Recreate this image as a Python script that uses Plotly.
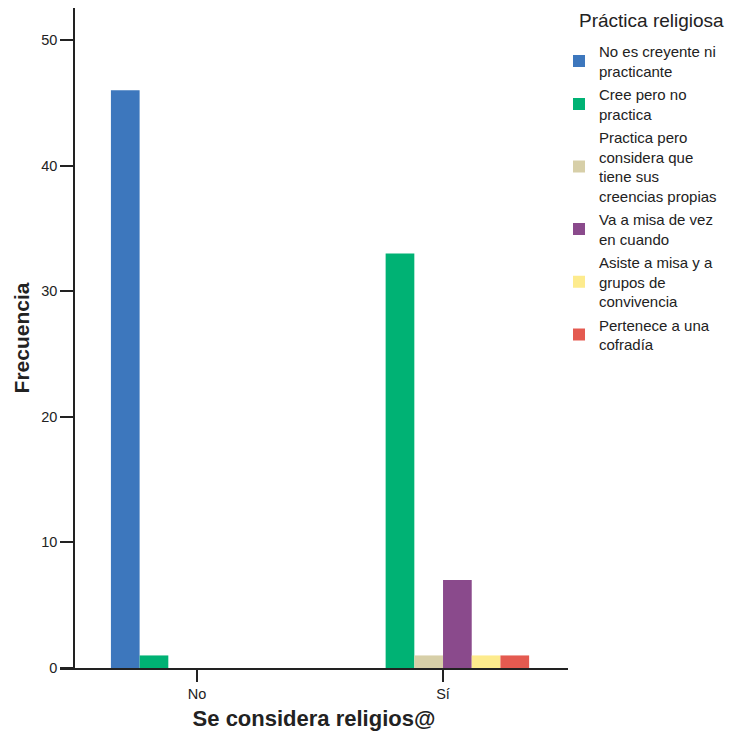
import plotly.graph_objects as go

categories = ["No", "Sí"]
series_names = [
    "No es creyente ni<br>practicante",
    "Cree pero no<br>practica",
    "Practica pero<br>considera que<br>tiene sus<br>creencias propias",
    "Va a misa de vez<br>en cuando",
    "Asiste a misa y a<br>grupos de<br>convivencia",
    "Pertenece a una<br>cofradía",
]
values_no = [46, 1, 0, 0, 0, 0]
values_si = [0, 33, 1, 7, 1, 1]
colors = ["#3D77BD", "#00B274", "#D7CFA8", "#8A4A8C", "#FDEB8D", "#E45A50"]
y_ticks = [0, 10, 20, 30, 40, 50]

FONT = "Liberation Sans, Arial, sans-serif"

# page body has an 8px margin; work in viewport pixels and convert
OFF = 8
W, H = 736, 733
PL, PR, PT, PB = 60, 568, 8, 668  # plot area in viewport pixels
L, T = PL - OFF, PT - OFF
R, B = W - (PR - OFF), H - (PB - OFF)
PW, PH = PR - PL, PB - PT


def px(xv):
    return (xv - PL) / PW


def py(yv):
    return 1.0 - (yv - PT) / PH


fig = go.Figure()
for i, name in enumerate(series_names):
    fig.add_trace(go.Bar(
        x=categories,
        y=[values_no[i], values_si[i]],
        name=name,
        legendgroup="g%d" % i,
        marker=dict(color=colors[i], line=dict(width=0)),
    ))

fig.update_layout(
    width=W, height=H,
    margin=dict(l=L, r=R, t=T, b=B, autoexpand=False),
    paper_bgcolor="white", plot_bgcolor="white",
    barmode="group", bargap=0.3, bargroupgap=0,
    font=dict(family=FONT, color="#222222", size=14),
    showlegend=True,
    legend=dict(
        x=px(559), y=py(35), xanchor="left", yanchor="top",
        xref="paper", yref="paper",
        font=dict(size=15, color="#222222"),
        itemwidth=30, tracegroupgap=1,
        bgcolor="rgba(0,0,0,0)",
    ),
    xaxis=dict(
        range=[-0.557, 1.508],
        automargin=False,
        showline=True, linecolor="#222222", linewidth=1.5,
        ticks="outside", ticklen=12, tickwidth=1.5, tickcolor="#222222",
        showgrid=False, zeroline=False,
        tickfont=dict(size=14.5),
        title=dict(text="<b>Se considera religios@</b>", font=dict(size=22), standoff=9),
    ),
    yaxis=dict(
        range=[0, 52.55],
        automargin=False,
        anchor="free", position=px(74),
        showline=True, linecolor="#222222", linewidth=1.5,
        ticks="outside", ticklen=13, tickwidth=1.5, tickcolor="#222222",
        tickvals=y_ticks,
        showgrid=False, zeroline=False,
        tickfont=dict(size=14.5),
        title=dict(text="<b>Frecuencia</b>", font=dict(size=21), standoff=5),
    ),
    annotations=[dict(
        text="Práctica religiosa", xref="paper", yref="paper",
        x=px(577), y=py(21),
        xanchor="left", yanchor="middle", showarrow=False,
        font=dict(size=19, color="#222222"),
    )],
)

fig.write_html("out.html")
